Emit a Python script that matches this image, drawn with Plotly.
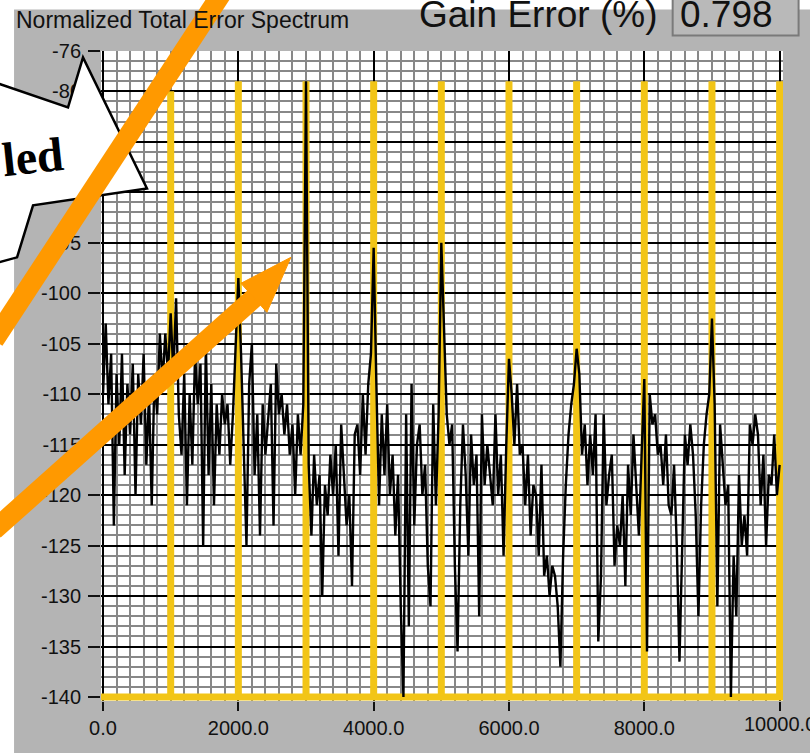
import plotly.graph_objects as go

# ---------------- data ----------------
freq_hz = list(range(0, 10001, 40))

spectrum_db = [
    # 0 .. 960
    -110, -103, -111, -106, -123, -108, -115, -106, -118, -109, -114, -107, -120,
    -108, -113, -106, -117, -110, -121, -108, -112, -104, -109, -104, -108,
    # 1000 .. 1960
    -102, -108, -100.5, -112, -116, -108, -121, -110, -117, -106, -111, -107, -125,
    -105, -118, -109, -121, -111, -116, -110, -113, -111, -117, -112, -106,
    # 2000 .. 2960
    -98.5, -106, -115, -125, -109, -105, -118, -112, -124, -111, -116, -112, -109,
    -123, -107, -112, -110, -114, -111, -116, -113, -120, -112, -116, -111,
    # 3000 .. 3960
    -79, -117, -124, -116, -121, -118, -130, -119, -122, -116, -120, -115, -126,
    -113, -118, -123, -120, -129, -114, -113, -118, -110, -116, -109, -106,
    # 4000 .. 4960
    -95.5, -109, -121, -112, -118, -111, -120, -116, -124, -118, -131, -140, -112,
    -133, -109, -123, -115, -113, -120, -117, -127, -131, -111, -121, -112,
    # 5000 .. 5960
    -95, -104, -112, -115, -113, -127, -135.5, -121, -113, -118, -126, -114, -119,
    -116, -132, -112, -119, -115, -118, -121, -112, -120, -116, -126, -115,
    # 6000 .. 6960
    -106.5, -110, -115, -109, -116, -115, -121, -116, -124, -119, -120, -126, -117,
    -128, -126, -130, -127, -128, -131, -137, -126, -119, -114, -111, -109,
    # 7000 .. 7960
    -105.5, -108, -116, -113, -119, -114, -118, -112, -134.5, -128, -112, -121, -118,
    -116, -127, -123, -125, -120, -129, -117, -122, -114, -119, -124, -116,
    # 8000 .. 8960
    -108.5, -135.5, -110, -113, -112, -116, -115, -119, -114, -121, -122, -117, -125,
    -136.5, -126, -114, -117, -113, -116, -122, -132, -121, -115, -112, -110,
    # 9000 .. 10000
    -102.5, -111, -131, -113, -117, -121, -119, -140, -126, -132, -118, -125, -122,
    -126, -113, -115, -112, -114, -121, -116, -125, -118, -119, -114, -120, -117,
]

harmonic_hz = [1000, 2000, 3000, 4000, 5000, 6000, 7000, 8000, 9000, 10000]
harmonic_top_db = [-80, -79, -79, -79, -79, -79, -79, -79, -79, -79]
floor_db = -140

x_range = [-30, 10050]
y_range = [-140.4, -76]

y_tick_vals = [-140, -135, -130, -125, -120, -115, -110, -105, -100, -95, -90, -85, -80, -76]
y_tick_text = ["-140", "-135", "-130", "-125", "-120", "-115", "-110", "-105", "-100",
               "-95", "-90", "-85", "-80", "-76"]
x_tick_vals = [0, 2000, 4000, 6000, 8000, 10000]
x_tick_text = ["0.0", "2000.0", "4000.0", "6000.0", "8000.0", "10000.0"]

title_text = "Normalized Total Error Spectrum"
gain_label = "Gain Error (%)"
gain_value = "0.798"
callout_text = "led"

# ---------------- geometry helpers (pixels -> paper) ----------------
W, H = 810, 753
L, R = 101, 783.4
T, B = 50.5, 701


def px(x):
    return (x - L) / (R - L)


def py(y):
    return (B - y) / (B - T)


def path(points, close=True):
    s = "M " + " L ".join(f"{px(x):.5f},{py(y):.5f}" for x, y in points)
    return s + (" Z" if close else "")


# harmonic marker trace (yellow)
mk_x = [x_range[0]]
mk_y = [floor_db]
for f, top in zip(harmonic_hz, harmonic_top_db):
    mk_x += [f, f, f]
    mk_y += [floor_db, top, floor_db]

fig = go.Figure()
fig.add_trace(go.Scatter(x=mk_x, y=mk_y, mode="lines",
                         line=dict(color="#F2C517", width=7),
                         hoverinfo="skip", showlegend=False))
fig.add_trace(go.Scatter(x=freq_hz, y=spectrum_db, mode="lines",
                         line=dict(color="#000000", width=2.4),
                         hoverinfo="skip", showlegend=False))

tick_font = dict(family="Liberation Sans, Arial, sans-serif", size=20, color="#111111")

# last x tick label runs off the right edge in the original; draw it as an annotation
axis_tick_text = x_tick_text[:-1] + [""]

fig.update_layout(
    width=W, height=H, autosize=False,
    margin=dict(l=L, r=W - R, t=T, b=H - B, pad=0),
    paper_bgcolor="#b4b4b4",
    plot_bgcolor="#ffffff",
    xaxis=dict(range=x_range, tickvals=x_tick_vals, ticktext=axis_tick_text,
               ticks="outside", ticklen=9, tickwidth=2, tickcolor="#111111",
               showgrid=True, gridcolor="#000000", gridwidth=2,
               minor=dict(dtick=200, tick0=0, showgrid=True, gridcolor="#888888", gridwidth=2),
               zeroline=False, showline=False, tickfont=tick_font, fixedrange=True),
    yaxis=dict(range=y_range, tickvals=y_tick_vals, ticktext=y_tick_text,
               ticks="outside", ticklen=12, tickwidth=2, tickcolor="#111111",
               ticklabelstandoff=3,
               showgrid=True, gridcolor="#000000", gridwidth=2,
               minor=dict(dtick=1, tick0=-140, showgrid=True, gridcolor="#888888", gridwidth=2),
               zeroline=False, showline=False, tickfont=tick_font, fixedrange=True),
)

shapes = []
# white slide background outside the grey panel
shapes.append(dict(type="rect", xref="paper", yref="paper", layer="below",
                   x0=px(-5), x1=px(W + 5), y0=py(9), y1=py(-5),
                   fillcolor="#ffffff", line=dict(width=0)))
shapes.append(dict(type="rect", xref="paper", yref="paper", layer="below",
                   x0=px(-5), x1=px(14), y0=py(H + 5), y1=py(-5),
                   fillcolor="#ffffff", line=dict(width=0)))
# numeric indicator box
shapes.append(dict(type="rect", xref="paper", yref="paper", layer="below",
                   x0=px(673), x1=px(799), y0=py(35), y1=py(-10),
                   fillcolor="#b9b9b9", line=dict(color="#7a7a7a", width=2)))
# white callout arrow
shapes.append(dict(type="path", xref="paper", yref="paper", layer="above",
                   path=path([(-5, 82), (68, 107), (83, 57), (147, 188), (33, 205), (17, 257), (-5, 263)]),
                   fillcolor="#ffffff", line=dict(color="#000000", width=2.5)))
# orange arrow 1 (steep, running off the top)
shapes.append(dict(type="line", xref="paper", yref="paper", layer="above",
                   x0=px(221), y0=py(-6), x1=px(-6), y1=py(340),
                   line=dict(color="#FF9900", width=20)))
# orange arrow 2 (shaft + head)
shapes.append(dict(type="line", xref="paper", yref="paper", layer="above",
                   x0=px(-6), y0=py(530), x1=px(256), y1=py(296),
                   line=dict(color="#FF9900", width=20)))
shapes.append(dict(type="path", xref="paper", yref="paper", layer="above",
                   path=path([(291, 257), (241, 283), (267, 312)]),
                   fillcolor="#FF9900", line=dict(color="#FF9900", width=1)))

annotations = [
    dict(text=title_text, xref="paper", yref="paper", x=px(14), y=py(19),
         xanchor="left", yanchor="middle", showarrow=False,
         font=dict(family="Liberation Sans, Arial", size=23, color="#111111")),
    dict(text=gain_label, xref="paper", yref="paper", x=px(417), y=py(14),
         xanchor="left", yanchor="middle", showarrow=False,
         font=dict(family="Liberation Sans, Arial", size=37, color="#111111")),
    dict(text=gain_value, xref="paper", yref="paper", x=px(678), y=py(14),
         xanchor="left", yanchor="middle", showarrow=False,
         font=dict(family="Liberation Sans, Arial", size=37, color="#111111")),
    dict(text="<b>" + callout_text + "</b>", xref="paper", yref="paper", x=px(69), y=py(156),
         xanchor="right", yanchor="middle", showarrow=False, textangle=-6,
         font=dict(family="Liberation Serif, Times New Roman, serif", size=48, color="#000000")),
    dict(text=x_tick_text[-1], xref="x", yref="paper", x=x_tick_vals[-1], y=py(724),
         xanchor="center", yanchor="middle", showarrow=False, font=tick_font),
]

fig.update_layout(shapes=shapes, annotations=annotations)
fig.write_html("out.html")
